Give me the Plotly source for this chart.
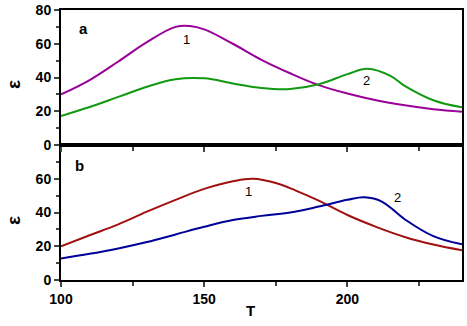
import plotly.graph_objects as go

# Panel a
T_a1 = [100, 110, 120, 130, 140, 145, 150, 160, 170, 180, 190, 200, 210, 220, 230, 240]
eps_a1 = [30, 38.5, 49.5, 61, 70, 70.5, 68.5, 60, 50.5, 42.5, 35.5, 30.5, 26.5, 23.5, 21.2, 19.7]
T_a2 = [100, 110, 120, 130, 140, 150, 160, 170, 180, 190, 200, 207, 215, 220, 230, 240]
eps_a2 = [17.2, 22.5, 28.5, 34.5, 39, 39.5, 36.5, 33.8, 33.2, 36, 42, 45.2, 41, 35, 26.5, 22.3]
# Panel b
T_b1 = [100, 110, 120, 130, 140, 150, 160, 167, 175, 182, 190, 200, 210, 220, 230, 240]
eps_b1 = [20, 26.5, 33, 40.5, 47.5, 54, 58.5, 60, 57.5, 53, 47, 38.5, 31.5, 25.5, 21, 17.6]
T_b2 = [100, 110, 120, 130, 140, 150, 160, 170, 180, 190, 200, 206, 212, 220, 230, 240]
eps_b2 = [12.7, 15.5, 18.7, 22.5, 27, 31.5, 35.5, 38, 40, 43.5, 47.5, 49, 46.5, 36, 26, 21.1]

x_ticks = [100, 150, 200]
y_ticks_a = [0, 20, 40, 60, 80]
y_ticks_b = [0, 20, 40, 60]

FONT = "Liberation Sans, Arial, sans-serif"

fig = go.Figure()
sp = dict(width=2, shape="spline", smoothing=1.1)
fig.add_trace(go.Scatter(x=T_a1, y=eps_a1, mode="lines", line=dict(color="#990099", **sp), xaxis="x2", yaxis="y2"))
fig.add_trace(go.Scatter(x=T_a2, y=eps_a2, mode="lines", line=dict(color="#119911", **sp), xaxis="x2", yaxis="y2"))
fig.add_trace(go.Scatter(x=T_b1, y=eps_b1, mode="lines", line=dict(color="#A01010", **sp), xaxis="x", yaxis="y"))
fig.add_trace(go.Scatter(x=T_b2, y=eps_b2, mode="lines", line=dict(color="#000099", **sp), xaxis="x", yaxis="y"))

common_x = dict(range=[100, 240], tickvals=x_ticks, ticks="outside", ticklen=5, tickwidth=1.5,
                showline=True, linecolor="black", linewidth=2, mirror=True, showgrid=False, zeroline=False,
                automargin=False,
                minor=dict(tickvals=[125, 175, 225], ticks="outside", ticklen=4, tickwidth=1.5, showgrid=False),
                tickfont=dict(family=FONT, size=14, color="black", weight="bold"))
common_y = dict(range=[0, 80], ticks="outside", ticklen=5, tickwidth=1.5,
                showline=True, linecolor="black", linewidth=2, mirror=True, showgrid=False, zeroline=False,
                automargin=False,
                minor=dict(tickvals=[10, 30, 50, 70], ticks="outside", ticklen=3, tickwidth=1.5, showgrid=False),
                tickfont=dict(family=FONT, size=14, color="black", weight="bold"))

fig.update_layout(
    width=467, height=326, autosize=False,
    margin=dict(l=61, r=5, t=10, b=46, pad=0),
    paper_bgcolor="white", plot_bgcolor="white",
    showlegend=False,
    xaxis=dict(**common_x, anchor="y", domain=[0, 1]),
    yaxis=dict(**common_y, tickvals=y_ticks_b, anchor="x", domain=[0, 0.5]),
    xaxis2=dict(**common_x, anchor="y2", showticklabels=False, matches="x"),
    yaxis2=dict(**common_y, tickvals=y_ticks_a, anchor="x2", domain=[0.5, 1]),
)

ann = []
lbl_font = dict(family=FONT, size=13, color="black")
bold_font = dict(family=FONT, size=15, color="black", weight="bold")
eps_font = dict(family=FONT, size=19, color="black", weight="bold")
ann.append(dict(x=108, y=69.3, xref="x2", yref="y2", text="a", font=bold_font))
ann.append(dict(x=106.6, y=68, xref="x", yref="y", text="b", font=bold_font))
ann.append(dict(x=143.8, y=62.6, xref="x2", yref="y2", text="1", font=lbl_font))
ann.append(dict(x=206.7, y=38.5, xref="x2", yref="y2", text="2", font=lbl_font))
ann.append(dict(x=165.3, y=52.4, xref="x", yref="y", text="1", font=lbl_font))
ann.append(dict(x=217.5, y=48.9, xref="x", yref="y", text="2", font=lbl_font))
# axis titles (pixel positions converted to paper fractions below)
ann.append(dict(x=13, y=326 - 85, xref="paper", yref="paper", text="ε", textangle=-90, font=eps_font))
ann.append(dict(x=13, y=326 - 221, xref="paper", yref="paper", text="ε", textangle=-90, font=eps_font))
ann.append(dict(x=250, y=326 - 311, xref="paper", yref="paper", text="T", font=bold_font))

pw, ph = 467 - 61 - 5, 326 - 10 - 46
for a in ann:
    a["showarrow"] = False
    a["xanchor"] = "center"
    a["yanchor"] = "middle"
    if a["xref"] == "paper":
        a["x"] = (a["x"] - 61) / pw
        a["y"] = (a["y"] - 46) / ph
fig.update_layout(annotations=ann)

fig.write_html("out.html", config={"displayModeBar": False},
               post_script="document.body.style.margin='0';document.body.style.overflow='hidden';")
